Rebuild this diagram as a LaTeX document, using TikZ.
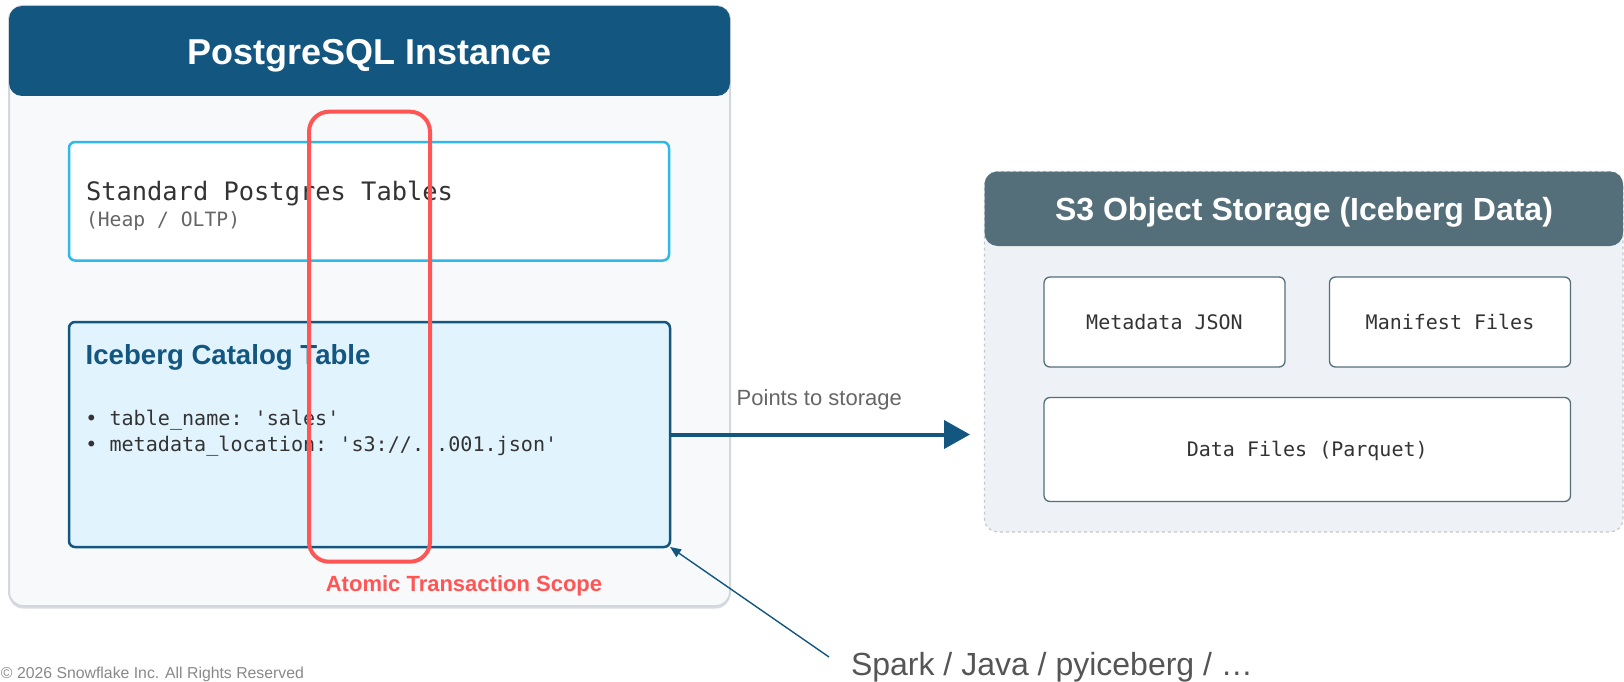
\documentclass[tikz,border=0pt]{standalone}
\usepackage{fontspec}
\setmainfont{Liberation Sans}
\setmonofont{DejaVu Sans Mono}
\usetikzlibrary{arrows.meta}
\definecolor{pgborder}{HTML}{D3D7DE}
\definecolor{pgshadow}{HTML}{D9DCE3}
\definecolor{pgbg}{HTML}{F7F9FB}
\definecolor{pghead}{HTML}{13567F}
\definecolor{cyanb}{HTML}{2FB8EA}
\definecolor{icefill}{HTML}{E1F4FD}
\definecolor{scopered}{HTML}{FF5555}
\definecolor{s3head}{HTML}{546E7A}
\definecolor{s3bg}{HTML}{EEF2F7}
\definecolor{s3border}{HTML}{C3C8CF}
\definecolor{textdark}{HTML}{333333}
\definecolor{textgray}{HTML}{666666}
\definecolor{sparkgray}{HTML}{555555}
\definecolor{textlight}{HTML}{888888}
\begin{document}
\begin{tikzpicture}[x=1pt,y=-1pt,
  boxbase/.style={inner sep=0pt, outer sep=0pt, anchor=north west},
  pgouter/.style={boxbase, draw=pgborder, line width=2pt, fill=pgbg, rounded corners=14pt},
  pgshade/.style={boxbase, fill=pgshadow, rounded corners=14pt},
  headbox/.style={boxbase, rounded corners=13pt},
  stdbox/.style={boxbase, draw=cyanb, line width=2.5pt, fill=white, rounded corners=6pt},
  icebox/.style={boxbase, draw=pghead, line width=2.5pt, fill=icefill, rounded corners=6pt},
  s3outer/.style={boxbase, draw=s3border, line width=1.2pt, dashed, fill=s3bg, rounded corners=13pt},
  filebox/.style={boxbase, draw=s3head, line width=1.3pt, fill=white, rounded corners=6pt},
  scopebox/.style={boxbase, draw=scopered, line width=4pt, rounded corners=20pt},
  txt/.style={inner sep=0pt, outer sep=0pt},
  monotxt/.style={txt, anchor=base, text=textdark, font=\ttfamily\fontsize{20}{24}\selectfont},
  bigarrow/.style={draw=pghead, line width=4pt, -{Triangle[length=26pt,width=28pt]}},
  thinarrow/.style={draw=pghead, line width=1.4pt, -{Triangle[length=11pt,width=9pt]}}
]
\useasboundingbox (0,0) rectangle (1624,682);

% PostgreSQL instance container
\node[pgshade, minimum width=721pt, minimum height=600pt] (pgsh) at (9,8.5) {};
\node[pgouter, minimum width=721pt, minimum height=600pt] (pg) at (9,6) {};
\node[headbox, fill=pghead, minimum width=721pt, minimum height=90pt] (pghd) at (9,6) {};
\node[txt, anchor=base, text=white, font=\bfseries\fontsize{36}{40}\selectfont] (pgtitle) at (369.5,65) {PostgreSQL Instance};

% Standard tables
\node[stdbox, minimum width=600pt, minimum height=118.5pt] (std) at (69,142) {};
\node[txt, anchor=base west, text=textdark, font=\ttfamily\fontsize{25.4}{30}\selectfont] (stdtitle) at (86,200) {Standard Postgres Tables};
\node[txt, anchor=base west, text=textgray, font=\ttfamily\fontsize{19.7}{24}\selectfont] (stdsub) at (86,226.7) {(Heap / OLTP)};

% Iceberg catalog table
\node[icebox, minimum width=601pt, minimum height=225pt] (ice) at (69,322) {};
\node[txt, anchor=base west, text=pghead, font=\bfseries\fontsize{27.6}{32}\selectfont] (icetitle) at (85.7,364) {Iceberg Catalog Table};
\node[txt, anchor=base west, text=textdark, font=\ttfamily\fontsize{20.1}{24}\selectfont] (icel1) at (85.3,425) {• table\_name: 'sales'};
\node[txt, anchor=base west, text=textdark, font=\ttfamily\fontsize{20.1}{24}\selectfont] (icel2) at (85.3,451.7) {• metadata\_location: 's3://...001.json'};

% Atomic transaction scope
\node[scopebox, minimum width=121pt, minimum height=450pt] (scope) at (309,111.7) {};
\node[txt, anchor=base, text=scopered, font=\bfseries\fontsize{22}{26}\selectfont] (scopelbl) at (464,591) {Atomic Transaction Scope};

% S3 object storage
\node[s3outer, minimum width=638.5pt, minimum height=360.5pt] (s3) at (984.5,171.5) {};
\node[headbox, fill=s3head, minimum width=638.5pt, minimum height=74.5pt] (s3hd) at (984.5,171.5) {};
\node[txt, anchor=base, text=white, font=\bfseries\fontsize{32}{36}\selectfont] (s3title) at (1304,220) {S3 Object Storage (Iceberg Data)};
\node[filebox, minimum width=241pt, minimum height=90pt] (meta) at (1044,277) {};
\node[filebox, minimum width=241pt, minimum height=90pt] (mani) at (1329.5,277) {};
\node[filebox, minimum width=526.5pt, minimum height=104pt] (data) at (1044,397.5) {};
\node[monotxt] (metalbl) at ([yshift=-7.3pt]meta.center) {Metadata JSON};
\node[monotxt] (manilbl) at ([yshift=-7.3pt]mani.center) {Manifest Files};
\node[monotxt] (datalbl) at ([yshift=-7.3pt]data.center) {Data Files (Parquet)};

% Points to storage arrow
\draw[bigarrow, shorten >=14.5pt] (ice.east) -- (ice.east -| s3.west);
\node[txt, anchor=base west, text=textgray, font=\fontsize{22}{26}\selectfont] (ptlbl) at (736.7,405) {Points to storage};

% Clients
\node[txt, anchor=base west, text=sparkgray, font=\fontsize{32}{36}\selectfont] (spark) at (851,675) {Spark / Java / pyiceberg / …};
\coordinate (sparkpt) at (829,657);
\draw[thinarrow] (sparkpt) -- (ice.south east);

% Footer
\node[txt, anchor=base west, text=textlight, font=\fontsize{15.8}{18}\selectfont] (copy) at (1,678) {© 2026 Snowflake Inc. All Rights Reserved};
\end{tikzpicture}
\end{document}
